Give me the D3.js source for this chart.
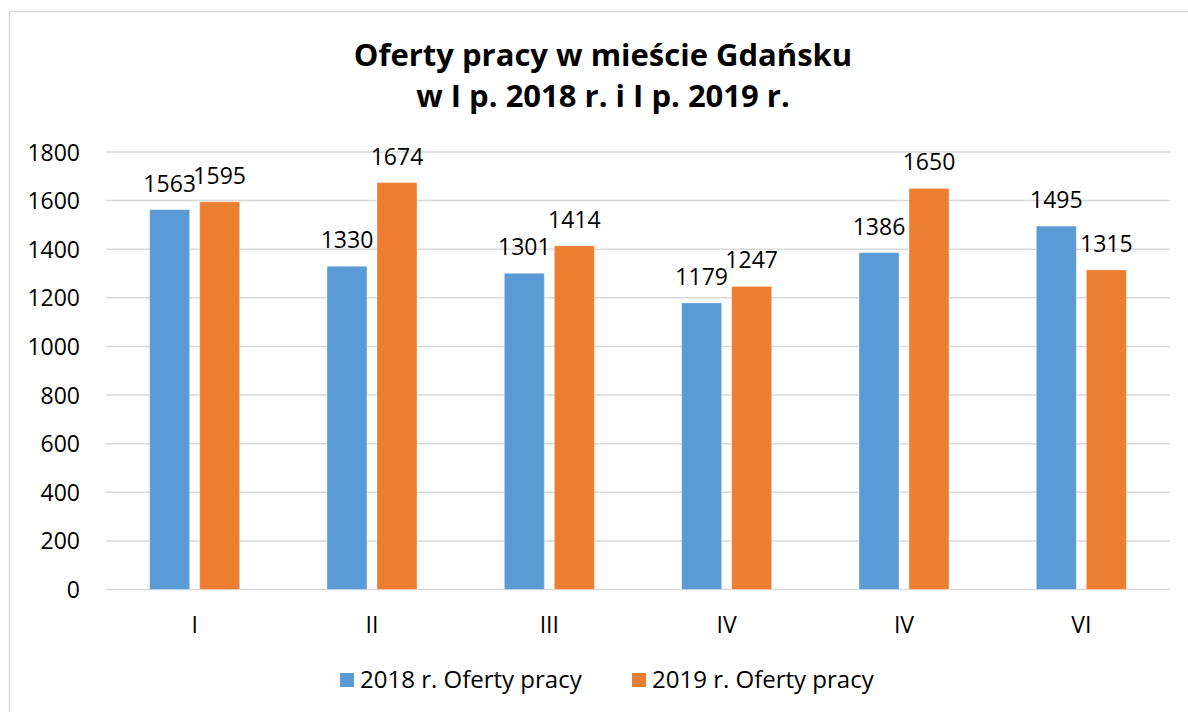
<!DOCTYPE html>
<html>
<head>
<meta charset="utf-8">
<script src="https://cdn.jsdelivr.net/npm/d3@7"></script>
<style>
  html, body { margin: 0; padding: 0; background: #ffffff; }
  svg { display: block; }
  text { font-family: "Open Sans", "Noto Sans", sans-serif; fill: #000; }
</style>
</head>
<body>
<svg id="chart" width="1188" height="712"></svg>
<script>
const titleLines = ["Oferty pracy w mieście Gdańsku", "w I p. 2018 r. i I p. 2019 r."];
const categories = ["I", "II", "III", "IV", "IV", "VI"];
const seriesNames = ["2018 r. Oferty pracy", "2019 r. Oferty pracy"];
const values2018 = [1563, 1330, 1301, 1179, 1386, 1495];
const values2019 = [1595, 1674, 1414, 1247, 1650, 1315];
const yTicks = [0, 200, 400, 600, 800, 1000, 1200, 1400, 1600, 1800];
const colors = ["#5B9BD5", "#ED7D31"];

const svg = d3.select("#chart");

// outer border
svg.append("rect").attr("x", 9.5).attr("y", 11.5).attr("width", 1300).attr("height", 900)
  .attr("fill", "#fff").attr("stroke", "#d9d9d9").attr("stroke-width", 1.5);

// title
const title = svg.append("text").attr("text-anchor", "middle")
  .style("font-weight", "bold").style("font-size", "31px");
title.selectAll("tspan").data(titleLines).join("tspan")
  .attr("x", 603).attr("y", (d, i) => 66 + i * 41).text(d => d);

const plot = { left: 106, right: 1170, top: 152, bottom: 589.5 };
const y = d3.scaleLinear().domain([0, 1800]).range([plot.bottom, plot.top]);
const x = d3.scaleBand().domain(d3.range(categories.length)).range([plot.left, plot.right]).padding(0);
const step = x.bandwidth();
const barW = step * 40 / 177.33;
const gap = step * 10 / 177.33;

// gridlines
svg.append("g").selectAll("line").data(yTicks).join("line")
  .attr("x1", plot.left).attr("x2", plot.right)
  .attr("y1", d => y(d)).attr("y2", d => y(d))
  .attr("stroke", "#d9d9d9").attr("stroke-width", 1.5);

// y axis labels
const yAxis = d3.axisLeft(y).tickValues(yTicks).tickFormat(d3.format("d")).tickSize(0).tickPadding(0);
const gy = svg.append("g").attr("transform", "translate(80,0)").call(yAxis);
gy.select(".domain").remove();
gy.selectAll("text").style("font-size", "23px").style("font-family", "'Open Sans', sans-serif")
  .attr("fill", "#000").attr("dy", "0.35em").attr("x", 0);

// bars
const series = [values2018, values2019];
series.forEach((vals, s) => {
  const g = svg.append("g");
  const bx = (i) => x(i) + step / 2 + (s === 0 ? -gap / 2 - barW : gap / 2);
  g.selectAll("rect").data(vals).join("rect")
    .attr("x", (d, i) => bx(i))
    .attr("y", d => y(d))
    .attr("width", barW)
    .attr("height", d => y(0) - y(d))
    .attr("fill", colors[s])
    .attr("stroke", "rgba(255,255,255,0.35)").attr("stroke-width", 1);
  g.selectAll("text").data(vals).join("text")
    .attr("x", (d, i) => bx(i) + barW / 2)
    .attr("y", d => y(d) - 18)
    .attr("text-anchor", "middle")
    .style("font-size", "23px")
    .text(d => d);
});

// x axis labels
const xAxis = d3.axisBottom(x).tickFormat(i => categories[i]).tickSize(0).tickPadding(0);
const gx = svg.append("g").attr("transform", `translate(0,${plot.bottom})`).call(xAxis);
gx.select(".domain").remove();
gx.selectAll("text").style("font-size", "23px").style("font-family", "'Open Sans', sans-serif")
  .attr("fill", "#000").attr("dy", 0).attr("y", 43);

// legend
const legendX = [340, 632];
const lg = svg.append("g");
seriesNames.forEach((name, s) => {
  lg.append("rect").attr("x", legendX[s]).attr("y", 673).attr("width", 14).attr("height", 14).attr("fill", colors[s]);
  lg.append("text").attr("x", legendX[s] + 20).attr("y", 688).style("font-size", "24px").text(name);
});
</script>
</body>
</html>
